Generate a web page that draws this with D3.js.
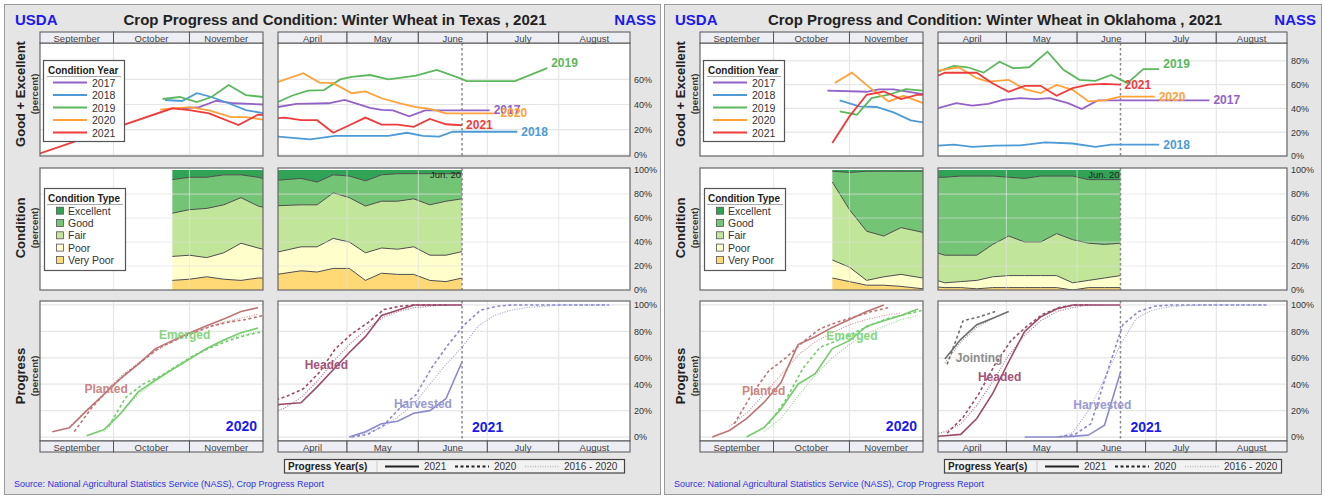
<!DOCTYPE html>
<html>
<head>
<meta charset="utf-8">
<script src="https://cdn.jsdelivr.net/npm/d3@7"></script>
<style>
  body { margin: 0; background: #fff; }
  svg { display: block; font-family: "Liberation Sans", Arial, sans-serif; }
</style>
</head>
<body>
<svg id="chart" width="1325" height="497"></svg>
<script>
// ---- shared labels ----
const conditionYears = [2017, 2018, 2019, 2020, 2021];
const conditionTypes = ["Excellent", "Good", "Fair", "Poor", "Very Poor"];
const progressYears = ["2021", "2020", "2016 - 2020"];
const fallMonths = ["September", "October", "November"];
const springMonths = ["April", "May", "June", "July", "August"];
const pctTicks = [0, 20, 40, 60, 80, 100];
const currentWeek = "06-20";

// ---- Texas ----
const txGETicks = [0, 20, 40, 60];
const txGEFall = [
  {year: 2017, pts: [["10-29",37],["11-05",38],["11-12",43],["11-19",41],["12-01",40]]},
  {year: 2018, pts: [["10-22",43.6],["10-29",42.8],["11-04",49],["11-10",46],["11-17",41],["11-24",35.6],["12-01",33.2]]},
  {year: 2019, pts: [["10-21",44.4],["10-28",46],["11-04",42],["11-10",46],["11-17",55.5],["11-24",47.5],["12-01",46]]},
  {year: 2020, pts: [["10-20",36],["10-25",37],["11-01",38],["11-09",35.4],["11-18",30],["11-24",30],["12-01",28]]},
  {year: 2021, pts: [["09-01",1],["10-25",37],["11-01",35.6],["11-09",33],["11-21",23.6],["11-29",32],["12-01",31.5]]}
];
const txGESpring = [
  {year: 2017, pts: [["04-01",38],["04-09",40.5],["04-23",41],["04-30",43.7],["05-11",37.4],["05-16",35.8],["05-21",35.3],["05-28",30.6],["06-04",35.3],["06-12",35.3],["07-02",35.3]]},
  {year: 2018, pts: [["04-01",14.4],["04-15",12.3],["04-26",15],["05-19",15],["05-27",17.5],["06-03",15],["06-10",14.4],["06-16",18.3],["07-14",18.3]]},
  {year: 2019, pts: [["04-01",42],["04-07",47],["04-14",51],["04-21",51.5],["04-28",60],["05-03",62],["05-11",63.5],["05-19",60],["05-31",63],["06-09",67.5],["06-19",61],["06-22",58.6],["07-13",58.6],["07-27",69]]},
  {year: 2020, pts: [["04-01",58],["04-12",65],["04-19",57.5],["04-25",57],["05-03",49],["05-09",50.5],["05-16",45],["05-24",41],["05-31",38],["06-06",36.5],["06-13",33],["07-05",33]]},
  {year: 2021, pts: [["03-28",28.5],["04-04",29.6],["04-11",27.5],["04-18",27.5],["04-25",17.5],["05-02",23.5],["05-09",29.6],["05-16",24],["05-23",24],["05-30",22.2],["06-06",28.5],["06-13",24.3],["06-20",23.5]]}
];
const txCondFallDates = ["10-25","11-01","11-08","11-15","11-22","11-29","12-01"];
const txCondFall = [
  {type: "Very Poor", values: [8, 9, 11, 9, 8, 10, 10]},
  {type: "Poor",      values: [20, 20, 16, 22, 31, 25, 24]},
  {type: "Fair",      values: [36, 38, 41, 40, 38, 35, 35]},
  {type: "Good",      values: [28, 27, 26, 25, 19, 24, 24]},
  {type: "Excellent", values: [8, 6, 6, 4, 4, 6, 7]}
];
const txCondSpringDates = ["03-28","04-11","04-18","04-25","05-02","05-09","05-16","05-23","05-30","06-06","06-13","06-20"];
const txCondSpring = [
  {type: "Very Poor", values: [12, 16, 15, 18, 18, 8, 14, 13, 13, 8, 7, 10]},
  {type: "Poor",      values: [18, 20, 21, 25, 22, 23, 21, 21, 23, 21, 22, 22]},
  {type: "Fair",      values: [40, 35, 35, 38, 37, 39, 39, 40, 40, 42, 45, 44]},
  {type: "Good",      values: [21, 22, 19, 15, 18, 21, 22, 23, 21, 26, 23, 21]},
  {type: "Excellent", values: [9, 7, 10, 4, 5, 9, 4, 3, 3, 3, 3, 3]}
];
const txProgFall = [
  {stage: "Planted", year: "2021", pts: [["09-06",4],["09-13",7],["09-20",20],["09-27",32],["10-04",44.5],["10-11",55],["10-18",66.8],["10-25",73],["11-01",78.7],["11-08",84.3],["11-15",89.4],["11-22",95],["11-29",98]]},
  {stage: "Planted", year: "2020", pts: [["09-15",4],["09-22",22],["09-29",36],["10-06",48],["10-13",58],["10-20",68],["10-27",74],["11-03",79],["11-10",84],["11-17",87],["11-24",89],["12-01",92]]},
  {stage: "Planted", year: "2016 - 2020", pts: [["09-13",8],["09-20",20],["09-27",33],["10-04",46],["10-11",56],["10-18",65],["10-25",72],["11-01",78],["11-08",83],["11-15",87],["11-22",90],["11-29",93]]},
  {stage: "Emerged", year: "2021", pts: [["09-20",1],["09-27",5.5],["10-04",18],["10-11",34],["10-18",43],["10-25",51],["11-01",59],["11-08",67],["11-15",73.5],["11-22",79],["11-29",82.5]]},
  {stage: "Emerged", year: "2020", pts: [["09-29",8],["10-06",30],["10-13",40],["10-20",46],["10-27",54],["11-03",62],["11-10",68],["11-17",73],["11-24",77],["12-01",80]]},
  {stage: "Emerged", year: "2016 - 2020", pts: [["09-27",4],["10-04",18],["10-11",32],["10-18",42],["10-25",52],["11-01",60],["11-08",67],["11-15",73],["11-22",77],["11-29",80]]}
];
const txProgSpring = [
  {stage: "Headed", year: "2021", pts: [["03-28",24],["04-04",25],["04-11",26],["04-18",38],["04-25",51],["05-02",64],["05-09",76],["05-16",92],["05-23",96],["05-30",100],["06-06",100],["06-13",100],["06-20",100]]},
  {stage: "Headed", year: "2020", pts: [["03-29",27],["04-05",31],["04-12",36.5],["04-19",49],["04-26",67],["05-03",78],["05-10",86.5],["05-17",96.5],["05-24",99],["05-31",100],["06-07",100],["06-14",100]]},
  {stage: "Headed", year: "2016 - 2020", pts: [["03-28",18],["04-04",22],["04-11",30],["04-18",42],["04-25",57],["05-02",70],["05-09",81],["05-16",90],["05-23",95],["05-30",98],["06-06",99],["06-13",100],["06-20",100]]},
  {stage: "Harvested", year: "2021", pts: [["05-02",0],["05-09",4],["05-16",10],["05-23",12],["05-30",18],["06-06",20],["06-13",29],["06-20",57]]},
  {stage: "Harvested", year: "2020", pts: [["05-03",0],["05-10",2],["05-17",9],["05-24",22],["05-31",32],["06-07",53],["06-14",70],["06-21",85],["06-28",96],["07-05",99],["07-12",100],["08-23",100]]},
  {stage: "Harvested", year: "2016 - 2020", pts: [["05-02",0],["05-09",3],["05-16",7],["05-23",15],["05-30",25],["06-06",40],["06-13",55],["06-20",68],["06-27",84],["07-04",92],["07-11",96],["07-18",98],["07-25",99],["08-01",100],["08-22",100]]}
];
const txStageLabels = [
  {stage: "Planted", season: "fall", at: ["09-28",36]},
  {stage: "Emerged", season: "fall", at: ["10-30",77]},
  {stage: "Headed", season: "spring", at: ["04-22",54.5]},
  {stage: "Harvested", season: "spring", at: ["06-03",25]}
];

// ---- Oklahoma ----
const okGETicks = [0, 20, 40, 60, 80];
const okGEFall = [
  {year: 2017, pts: [["10-23",55],["11-08",54],["11-13",56],["11-19",56],["12-01",52]]},
  {year: 2018, pts: [["10-28",46.7],["11-05",41.7],["11-12",41.2],["11-19",36.7],["11-26",30],["12-01",28.3]]},
  {year: 2019, pts: [["10-28",37.5],["11-04",34.7],["11-10",48.7],["11-17",51.5],["11-24",56.2],["12-01",55]]},
  {year: 2020, pts: [["10-26",61.3],["11-02",70.1],["11-09",57.9],["11-17",45.9],["11-23",50.6],["12-01",44.5]]},
  {year: 2021, pts: [["10-25",11],["11-01",33.3],["11-08",51.5],["11-15",54.2],["11-22",47.9],["11-29",51.5],["12-01",51.5]]}
];
const okGESpring = [
  {year: 2017, pts: [["04-01",40.3],["04-09",44.5],["04-16",42.3],["04-23",43.9],["04-30",47.3],["05-07",48.7],["05-14",47.9],["05-20",48.7],["05-28",44.5],["06-03",39.5],["06-10",46.7],["06-18",46.7],["07-29",46.7]]},
  {year: 2018, pts: [["04-01",8.8],["04-08",9.6],["04-16",7.7],["04-26",8.8],["05-07",9],["05-18",11.5],["05-30",10.5],["06-09",7.7],["06-16",9.6],["07-07",9.6]]},
  {year: 2019, pts: [["04-01",71],["04-08",75.7],["04-14",74.6],["04-21",70.1],["04-28",79.3],["05-04",73.8],["05-11",74.6],["05-19",87.7],["05-26",72.4],["06-02",64],["06-09",63.2],["06-16",68.2],["06-23",61.3],["06-30",73],["07-07",73]]},
  {year: 2020, pts: [["04-01",71.8],["04-10",74.6],["04-18",65.4],["04-23",62.6],["05-02",64],["05-09",56.2],["05-16",52.9],["05-23",59.8],["05-30",55.6],["06-06",45.9],["06-13",46.7],["06-20",50],["07-05",50]]},
  {year: 2021, pts: [["03-28",64],["04-04",70],["04-11",70],["04-18",70],["04-25",61],["05-02",54],["05-09",59],["05-16",59],["05-23",50.6],["05-30",57],["06-06",60],["06-13",60.7],["06-20",60]]}
];
const okCondFallDates = ["10-25","11-01","11-08","11-15","11-22","12-01"];
const okCondFall = [
  {type: "Very Poor", values: [10, 7, 4, 4, 3, 1]},
  {type: "Poor",      values: [15, 12, 4, 7, 10, 9]},
  {type: "Fair",      values: [65, 48, 41, 34, 39, 38]},
  {type: "Good",      values: [9, 31, 50, 54, 47, 51]},
  {type: "Excellent", values: [1, 2, 1, 1, 1, 1]}
];
const okCondSpringDates = ["03-28","04-04","04-11","04-18","04-25","05-02","05-09","05-16","05-23","05-30","06-06","06-13","06-20"];
const okCondSpring = [
  {type: "Very Poor", values: [3, 2, 2, 1, 2, 2, 2, 2, 2, 0, 2, 2, 2]},
  {type: "Poor",      values: [7, 4, 5, 7, 9, 10, 10, 10, 10, 6, 6, 8, 10]},
  {type: "Fair",      values: [23, 23, 22, 21, 27, 33, 28, 28, 35, 36, 31, 28, 27]},
  {type: "Good",      values: [61, 65, 66, 66, 57, 49, 53, 55, 48, 53, 53, 54, 53]},
  {type: "Excellent", values: [6, 6, 5, 5, 5, 6, 7, 5, 5, 5, 8, 8, 8]}
];
const okProgFall = [
  {stage: "Planted", year: "2021", pts: [["09-06",0],["09-13",5],["09-20",14],["09-27",26],["10-04",41],["10-11",70],["10-18",76],["10-25",83],["11-01",89],["11-08",95],["11-15",100]]},
  {stage: "Planted", year: "2020", pts: [["09-15",10],["09-22",32],["09-29",50],["10-06",60],["10-13",72],["10-20",82],["10-27",87],["11-03",91],["11-10",95],["11-17",98]]},
  {stage: "Planted", year: "2016 - 2020", pts: [["09-13",8],["09-20",18],["09-27",32],["10-04",47],["10-11",62],["10-18",72],["10-25",79],["11-01",85],["11-08",89],["11-15",92],["11-22",94]]},
  {stage: "Emerged", year: "2021", pts: [["09-20",0],["09-27",7],["10-04",21],["10-11",40],["10-18",48],["10-25",67],["11-01",73],["11-08",84],["11-15",88],["11-22",92],["11-29",97]]},
  {stage: "Emerged", year: "2020", pts: [["09-29",10],["10-06",28],["10-13",52],["10-20",68],["10-27",73],["11-03",79],["11-10",85],["11-17",90],["11-24",93],["12-01",96]]},
  {stage: "Emerged", year: "2016 - 2020", pts: [["09-27",4],["10-04",14],["10-11",31],["10-18",47],["10-25",60],["11-01",70],["11-08",78],["11-15",84],["11-22",89],["11-29",92]]}
];
const okProgSpring = [
  {stage: "Jointing", year: "2021", pts: [["04-04",59],["04-11",74],["04-18",85],["04-25",90],["05-02",95]]},
  {stage: "Jointing", year: "2020", pts: [["04-05",55],["04-12",88],["04-19",91],["04-26",95]]},
  {stage: "Jointing", year: "2016 - 2020", pts: [["04-04",56],["04-11",72],["04-18",83],["04-25",90]]},
  {stage: "Headed", year: "2021", pts: [["03-28",0],["04-04",1],["04-11",2],["04-18",14],["04-25",33],["05-02",57],["05-09",80],["05-16",91],["05-23",97],["05-30",100],["06-06",100],["06-13",100],["06-20",100]]},
  {stage: "Headed", year: "2020", pts: [["04-05",3],["04-12",15],["04-19",33],["04-26",55],["05-03",73],["05-10",84],["05-17",93],["05-24",98],["05-31",100],["06-07",100]]},
  {stage: "Headed", year: "2016 - 2020", pts: [["03-28",1],["04-04",4],["04-11",10],["04-18",24],["04-25",42],["05-02",62],["05-09",77],["05-16",88],["05-23",95],["05-30",98],["06-06",100],["06-13",100]]},
  {stage: "Harvested", year: "2021", pts: [["05-09",0],["05-16",0],["05-23",0],["05-30",0.5],["06-06",1.5],["06-13",9],["06-20",49]]},
  {stage: "Harvested", year: "2020", pts: [["05-24",0],["05-31",2],["06-07",10],["06-14",48],["06-21",85],["06-28",95],["07-05",99],["07-12",100],["08-23",100]]},
  {stage: "Harvested", year: "2016 - 2020", pts: [["05-23",0],["05-30",3],["06-06",20],["06-13",44],["06-20",70],["06-27",90],["07-04",96],["07-11",98.5],["07-18",99.5],["07-25",100],["08-22",100]]}
];
const okStageLabels = [
  {stage: "Planted", season: "fall", at: ["09-27",35]},
  {stage: "Emerged", season: "fall", at: ["11-02",76.5]},
  {stage: "Jointing", season: "spring", at: ["04-19",60]},
  {stage: "Headed", season: "spring", at: ["04-28",45.5]},
  {stage: "Harvested", season: "spring", at: ["06-12",24]}
];

// ---- styles ----
const yearColor = d3.scaleOrdinal().domain(conditionYears)
  .range(["#9262c6", "#4c9bd6", "#5cb85c", "#ffa23a", "#ee3c3c"]);
const condColor = d3.scaleOrdinal().domain(conditionTypes)
  .range(["#31a354", "#74c476", "#c2e699", "#ffffcc", "#fed976"]);
const stageColor = {Planted: "#bf7474", Emerged: "#74cc6c", Jointing: "#6e6e6e", Headed: "#9c4a6c", Harvested: "#8a8acb"};
const labelColor = {Planted: "#cc8585", Emerged: "#85d67d", Jointing: "#8e8e8e", Headed: "#a45478", Harvested: "#9a9ad2"};
const dashFor = {"2021": null, "2020": "3,2.5", "2016 - 2020": "1,1.5"};

const parseFall = s => { const [m, d] = s.split("-").map(Number); return new Date(2020, m - 1, d); };
const parseSpring = s => { const [m, d] = s.split("-").map(Number); return new Date(2021, m - 1, d); };

const svg = d3.select("#chart");
let clipSeq = 0;

function frame(g, x, y) {
    const [x0, x1] = x.range(), [yb, yt] = y.range();
    const id = "clip" + (clipSeq++);
    g.append("clipPath").attr("id", id).append("rect")
        .attr("x", x0).attr("y", yt).attr("width", x1 - x0).attr("height", yb - yt);
    g.append("rect")
        .attr("x", x0).attr("y", yt).attr("width", x1 - x0).attr("height", yb - yt)
        .attr("fill", "#fff");
    return id;
}

function grid(g, x, y, ticks, id, color) {
    const [x0, x1] = x.range(), [yb, yt] = y.range();
    const gg = g.append("g").attr("clip-path", `url(#${id})`)
        .attr("stroke", color).attr("stroke-width", 1.2);
    gg.selectAll(".h").data(ticks).join("line").attr("class", "h")
        .attr("x1", x0).attr("x2", x1).attr("y1", d => y(d)).attr("y2", d => y(d));
    gg.selectAll(".v").data(d3.timeMonths(...x.domain()).slice(1)).join("line").attr("class", "v")
        .attr("x1", d => x(d)).attr("x2", d => x(d)).attr("y1", yt).attr("y2", yb);
}

function border(g, x, y) {
    const [x0, x1] = x.range(), [yb, yt] = y.range();
    g.append("rect")
        .attr("x", x0).attr("y", yt).attr("width", x1 - x0).attr("height", yb - yt)
        .attr("fill", "none").attr("stroke", "#666").attr("stroke-width", 1.2);
}

function monthStrip(g, x, names, y0, y1) {
    const months = d3.timeMonths(...x.domain());
    const cell = g.append("g").selectAll("g").data(months).join("g");
    cell.append("rect")
        .attr("x", d => x(d)).attr("y", y0)
        .attr("width", d => x(d3.timeMonth.offset(d, 1)) - x(d)).attr("height", y1 - y0)
        .attr("fill", "#ededf4").attr("stroke", "#555").attr("stroke-width", 1);
    cell.append("text")
        .attr("x", d => (x(d) + x(d3.timeMonth.offset(d, 1))) / 2).attr("y", (y0 + y1) / 2 + 0.5)
        .attr("text-anchor", "middle").attr("dominant-baseline", "central")
        .attr("font-size", 9.5).attr("fill", "#444")
        .text((d, i) => names[i]);
}

function rightAxis(g, x, y, ticks) {
    const ax = g.append("g").attr("transform", `translate(${x.range()[1]},0)`)
        .call(d3.axisRight(y).tickValues(ticks).tickFormat(d => d + "%").tickSize(0).tickPadding(4));
    ax.select(".domain").remove();
    ax.selectAll("text").attr("font-size", 9).attr("fill", "#333")
        .attr("font-family", "Liberation Sans, Arial, sans-serif");
}

function todayLine(g, x, y, id) {
    const [yb, yt] = y.range();
    g.append("line").attr("clip-path", `url(#${id})`)
        .attr("x1", x(parseSpring(currentWeek))).attr("x2", x(parseSpring(currentWeek)))
        .attr("y1", yt).attr("y2", yb)
        .attr("stroke", "#888").attr("stroke-width", 1.5).attr("stroke-dasharray", "2.5,2.5");
}

function geLines(g, x, y, series, parse, id, withLabels) {
    const line = d3.line().x(d => x(parse(d[0]))).y(d => y(d[1]));
    g.append("g").attr("clip-path", `url(#${id})`)
        .selectAll("path").data(series).join("path")
        .attr("d", d => line(d.pts)).attr("fill", "none")
        .attr("stroke", d => yearColor(d.year)).attr("stroke-width", 1.8);
    if (withLabels) {
        g.append("g").selectAll("text").data(series).join("text")
            .attr("x", d => x(parse(d.pts[d.pts.length - 1][0])) + 4)
            .attr("y", d => y(d.pts[d.pts.length - 1][1]) + (d.year === 2019 ? -5 : 0))
            .attr("dominant-baseline", "central")
            .attr("font-size", 12).attr("font-weight", "bold")
            .attr("fill", d => yearColor(d.year))
            .text(d => d.year);
    }
}

function condAreas(g, x, y, dates, layers, parse, id) {
    const rows = dates.map((d, i) => {
        const r = {date: parse(d)};
        layers.forEach(l => { r[l.type] = l.values[i]; });
        return r;
    });
    const keys = ["Very Poor", "Poor", "Fair", "Good", "Excellent"];
    const stacked = d3.stack().keys(keys)(rows);
    const area = d3.area().x(d => x(d.data.date)).y0(d => y(d[0])).y1(d => y(d[1]));
    const top = d3.line().x(d => x(d.data.date)).y(d => y(d[1]));
    const gg = g.append("g").attr("clip-path", `url(#${id})`);
    gg.selectAll(".area").data(stacked).join("path").attr("class", "area")
        .attr("d", area).attr("fill", d => condColor(d.key));
    gg.selectAll(".edge").data(stacked.slice(0, 4)).join("path").attr("class", "edge")
        .attr("d", top).attr("fill", "none").attr("stroke", "#4d4d4d").attr("stroke-width", 1);
}

function progLines(g, x, y, series, parse, id) {
    const line = d3.line().x(d => x(parse(d[0]))).y(d => y(d[1]));
    g.append("g").attr("clip-path", `url(#${id})`)
        .selectAll("path").data(series).join("path")
        .attr("d", d => line(d.pts)).attr("fill", "none")
        .attr("stroke", d => stageColor[d.stage])
        .attr("stroke-width", d => d.year === "2016 - 2020" ? 1.2 : 1.6)
        .attr("stroke-opacity", d => d.year === "2016 - 2020" ? 0.75 : 1)
        .attr("stroke-dasharray", d => dashFor[d.year]);
}

function drawState(st) {
    const g = svg.append("g").attr("transform", `translate(${st.ox},0)`);

    g.append("rect").attr("x", 4.5).attr("y", 4.5).attr("width", st.panelW).attr("height", 490)
        .attr("fill", "#e5e5e5").attr("stroke", "#9a9a9a");

    g.append("text").attr("x", 15).attr("y", 19).attr("dominant-baseline", "central")
        .attr("font-size", 15).attr("font-weight", "bold").attr("fill", "#1a1aee").text("USDA");
    g.append("text").attr("x", 335).attr("y", 19).attr("dominant-baseline", "central")
        .attr("text-anchor", "middle").attr("font-size", 15).attr("font-weight", "bold").attr("fill", "#222")
        .text(`Crop Progress and Condition: Winter Wheat in ${st.name} , 2021`);
    g.append("text").attr("x", 656).attr("y", 19).attr("dominant-baseline", "central")
        .attr("text-anchor", "end").attr("font-size", 15).attr("font-weight", "bold").attr("fill", "#1a1aee").text("NASS");

    // y titles
    [["Good + Excellent", 94], ["Condition", 228], ["Progress", 376]].forEach(([t, cy]) => {
        g.append("text").attr("transform", `translate(20,${cy}) rotate(-90)`)
            .attr("text-anchor", "middle").attr("dominant-baseline", "central")
            .attr("font-size", 13).attr("font-weight", "bold").attr("fill", "#222").text(t);
        g.append("text").attr("transform", `translate(34,${cy}) rotate(-90)`)
            .attr("text-anchor", "middle").attr("dominant-baseline", "central")
            .attr("font-size", 9.5).attr("font-weight", "bold").attr("fill", "#333").text("(percent)");
    });

    const xf = d3.scaleTime().domain([new Date(2020, 8, 1), new Date(2020, 11, 1)]).range([40, 263]);
    const xs = d3.scaleTime().domain([new Date(2021, 3, 1), new Date(2021, 8, 1)]).range([278, st.springRight]);
    const yGE = d3.scaleLinear().domain(st.geDomain).range([156, 43]);
    const yC = d3.scaleLinear().domain([0, 101.7]).range([290, 168]);
    const yP = d3.scaleLinear().domain([-3, 103]).range([441, 301]);
    const gridColor = "#e6e6e6";

    // --- Good + Excellent row ---
    [[xf, st.geFall, parseFall, false, fallMonths], [xs, st.geSpring, parseSpring, true, springMonths]]
        .forEach(([x, series, parse, spring, names]) => {
            const id = frame(g, x, yGE);
            grid(g, x, yGE, st.geTicks, id, gridColor);
            if (spring) todayLine(g, x, yGE, id);
            geLines(g, x, yGE, series, parse, id, spring);
            border(g, x, yGE);
            monthStrip(g, x, names, 32, 43);
        });
    rightAxis(g, xs, yGE, st.geTicks);

    // condition year legend
    const ly = g.append("g");
    ly.append("rect").attr("x", 43.5).attr("y", 60.5).attr("width", 81).attr("height", 81)
        .attr("fill", "#fff").attr("stroke", "#555").attr("stroke-width", 1.2);
    ly.append("text").attr("x", 48).attr("y", 70).attr("dominant-baseline", "central")
        .attr("font-size", 10).attr("font-weight", "bold").attr("fill", "#222").text("Condition Year");
    ly.append("line").attr("x1", 47).attr("x2", 121).attr("y1", 76.5).attr("y2", 76.5)
        .attr("stroke", "#aaa");
    const lyRow = ly.selectAll(".row").data(conditionYears).join("g").attr("class", "row")
        .attr("transform", (d, i) => `translate(0,${82.5 + i * 12.5})`);
    lyRow.append("line").attr("x1", 53).attr("x2", 87).attr("stroke", d => yearColor(d)).attr("stroke-width", 1.8);
    lyRow.append("text").attr("x", 92).attr("dominant-baseline", "central")
        .attr("font-size", 10.5).attr("fill", "#333").text(d => d);

    // --- Condition row ---
    [[xf, st.condFallDates, st.condFall, parseFall, false], [xs, st.condSpringDates, st.condSpring, parseSpring, true]]
        .forEach(([x, dates, layers, parse, spring]) => {
            const id = frame(g, x, yC);
            condAreas(g, x, yC, dates, layers, parse, id);
            grid(g, x, yC, pctTicks.slice(1, 5), id, "rgba(225,225,225,0.6)");
            if (spring) {
                todayLine(g, x, yC, id);
                g.append("text").attr("x", x(parseSpring(currentWeek)) - 1).attr("y", 174)
                    .attr("text-anchor", "end").attr("dominant-baseline", "central")
                    .attr("font-size", 9.5).attr("fill", "#222").text("Jun. 20");
            }
            border(g, x, yC);
        });
    rightAxis(g, xs, yC, pctTicks);

    // condition type legend
    const lt = g.append("g");
    lt.append("rect").attr("x", 44.5).attr("y", 188.5).attr("width", 81).attr("height", 82)
        .attr("fill", "#fff").attr("stroke", "#555").attr("stroke-width", 1.2);
    lt.append("text").attr("x", 48).attr("y", 198).attr("dominant-baseline", "central")
        .attr("font-size", 10).attr("font-weight", "bold").attr("fill", "#222").text("Condition Type");
    lt.append("line").attr("x1", 47).attr("x2", 123).attr("y1", 204.5).attr("y2", 204.5).attr("stroke", "#aaa");
    const ltRow = lt.selectAll(".row").data(conditionTypes).join("g").attr("class", "row")
        .attr("transform", (d, i) => `translate(0,${210.7 + i * 12.3})`);
    ltRow.append("rect").attr("x", 56.5).attr("y", -3.5).attr("width", 7).attr("height", 7)
        .attr("fill", d => condColor(d)).attr("stroke", "#555").attr("stroke-width", 0.8);
    ltRow.append("text").attr("x", 68).attr("dominant-baseline", "central")
        .attr("font-size", 10.5).attr("fill", "#333").text(d => d);

    // --- Progress row ---
    const seasons = {fall: [xf, parseFall], spring: [xs, parseSpring]};
    [[xf, st.progFall, parseFall, false, fallMonths], [xs, st.progSpring, parseSpring, true, springMonths]]
        .forEach(([x, series, parse, spring, names]) => {
            const id = frame(g, x, yP);
            grid(g, x, yP, pctTicks, id, gridColor);
            if (spring) todayLine(g, x, yP, id);
            progLines(g, x, yP, series, parse, id);
            border(g, x, yP);
            monthStrip(g, x, names, 441, 452);
        });
    rightAxis(g, xs, yP, pctTicks);

    g.append("g").selectAll("text").data(st.stageLabels).join("text")
        .attr("x", d => seasons[d.season][0](seasons[d.season][1](d.at[0])))
        .attr("y", d => yP(d.at[1]))
        .attr("text-anchor", "middle").attr("dominant-baseline", "central")
        .attr("font-size", 12).attr("font-weight", "bold")
        .attr("fill", d => labelColor[d.stage]).text(d => d.stage);

    g.append("text").attr("x", 257).attr("y", 426).attr("text-anchor", "end").attr("dominant-baseline", "central")
        .attr("font-size", 14).attr("font-weight", "bold").attr("fill", "#1a1aee").text("2020");
    g.append("text").attr("x", xs(parseSpring(currentWeek)) + 10).attr("y", 427).attr("dominant-baseline", "central")
        .attr("font-size", 14).attr("font-weight", "bold").attr("fill", "#1a1aee").text("2021");

    // progress legend
    const lp = g.append("g").attr("transform", "translate(284,459)");
    lp.append("rect").attr("x", 0.5).attr("y", 0.5).attr("width", st.springRight - 284 - 6).attr("height", 13.5)
        .attr("fill", "#f2f2f2").attr("stroke", "#444").attr("stroke-width", 1.2);
    lp.append("text").attr("x", 4).attr("y", 7.5).attr("dominant-baseline", "central")
        .attr("font-size", 10).attr("font-weight", "bold").attr("fill", "#222").text("Progress Year(s)");
    lp.append("line").attr("x1", 93).attr("x2", 93).attr("y1", 2).attr("y2", 13).attr("stroke", "#ccc");
    const lpItem = lp.selectAll(".item").data(progressYears).join("g").attr("class", "item")
        .attr("transform", (d, i) => `translate(${101 + i * 70},7.5)`);
    lpItem.append("line").attr("x1", 0).attr("x2", 34)
        .attr("stroke", d => d === "2016 - 2020" ? "#bbb" : "#222")
        .attr("stroke-width", d => d === "2016 - 2020" ? 1.3 : 1.8)
        .attr("stroke-dasharray", d => dashFor[d]);
    lpItem.append("text").attr("x", 39).attr("dominant-baseline", "central")
        .attr("font-size", 10).attr("fill", "#333").text(d => d);

    g.append("text").attr("x", 14).attr("y", 484).attr("dominant-baseline", "central")
        .attr("font-size", 9).attr("fill", "#3030e0")
        .text("Source: National Agricultural Statistics Service (NASS), Crop Progress Report");
}

drawState({
    name: "Texas", ox: 0, panelW: 656, springRight: 630, geDomain: [-1, 89], geTicks: txGETicks,
    geFall: txGEFall, geSpring: txGESpring,
    condFallDates: txCondFallDates, condFall: txCondFall,
    condSpringDates: txCondSpringDates, condSpring: txCondSpring,
    progFall: txProgFall, progSpring: txProgSpring, stageLabels: txStageLabels
});
drawState({
    name: "Oklahoma", ox: 660, panelW: 657, springRight: 627, geDomain: [0, 95], geTicks: okGETicks,
    geFall: okGEFall, geSpring: okGESpring,
    condFallDates: okCondFallDates, condFall: okCondFall,
    condSpringDates: okCondSpringDates, condSpring: okCondSpring,
    progFall: okProgFall, progSpring: okProgSpring, stageLabels: okStageLabels
});
</script>
</body>
</html>
